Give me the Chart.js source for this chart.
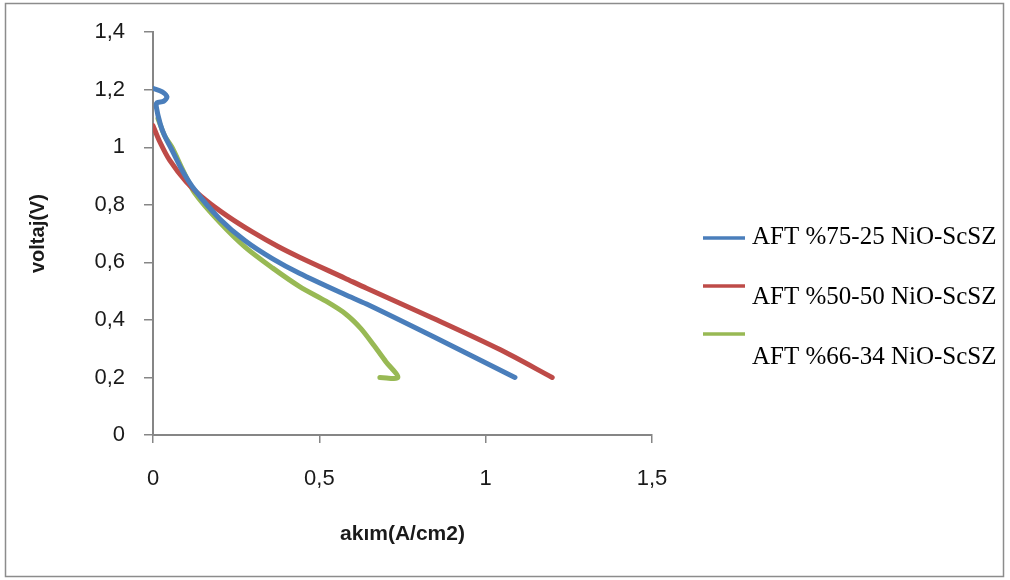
<!DOCTYPE html>
<html>
<head>
<meta charset="utf-8">
<script src="https://cdn.jsdelivr.net/npm/chart.js@4.4.1/dist/chart.umd.min.js"></script>
<style>
  html, body { margin: 0; padding: 0; background: #fff; }
  #wrap { width: 1010px; height: 580px; }
</style>
</head>
<body>
<div id="wrap"><canvas id="c" width="1010" height="580"></canvas></div>
<script>
// ---- data (x: akım A/cm2, y: voltaj V) ----
const seriesNames = ['AFT %75-25 NiO-ScSZ', 'AFT %50-50 NiO-ScSZ', 'AFT %66-34 NiO-ScSZ'];

const blueX = [0.000, 0.028, 0.042, 0.032, 0.012, 0.010, 0.022, 0.035, 0.057, 0.090, 0.126, 0.200, 0.277, 0.360, 0.440, 0.577, 0.642, 0.842, 1.088];
const blueY = [1.205, 1.193, 1.175, 1.160, 1.155, 1.140, 1.080, 1.040, 0.990, 0.915, 0.851, 0.752, 0.675, 0.612, 0.562, 0.488, 0.455, 0.342, 0.200];

const redX = [0.000, 0.020, 0.050, 0.100, 0.160, 0.225, 0.300, 0.376, 0.442, 0.577, 0.642, 0.842, 1.043, 1.200];
const redY = [1.075, 1.020, 0.955, 0.880, 0.815, 0.760, 0.705, 0.655, 0.617, 0.545, 0.510, 0.406, 0.297, 0.200];

const greenX = [0.015, 0.035, 0.057, 0.090, 0.126, 0.200, 0.277, 0.360, 0.442, 0.520, 0.580, 0.625, 0.665, 0.700, 0.736, 0.682];
const greenY = [1.100, 1.040, 1.000, 0.920, 0.840, 0.740, 0.653, 0.580, 0.515, 0.465, 0.420, 0.370, 0.310, 0.255, 0.200, 0.200];

const xTickLabels = ['0', '0,5', '1', '1,5'];
const yTickLabels = ['0', '0,2', '0,4', '0,6', '0,8', '1', '1,2', '1,4'];

const colors = ['#4A7EBB', '#BE4B48', '#98B954'];

function pts(xs, ys) { return xs.map((x, i) => ({ x: x, y: ys[i] })); }
const seriesData = [pts(blueX, blueY), pts(redX, redY), pts(greenX, greenY)];

const AXIS = '#868686';

const bgBorder = {
  id: 'bgBorder',
  beforeDraw(chart) {
    const ctx = chart.ctx;
    ctx.save();
    ctx.fillStyle = '#ffffff';
    ctx.fillRect(0, 0, chart.width, chart.height);
    ctx.restore();
  },
  afterDraw(chart) {
    const ctx = chart.ctx;
    ctx.save();
    ctx.strokeStyle = '#8c8c8c';
    ctx.lineWidth = 1.5;
    ctx.strokeRect(5.5, 3.5, 998, 573);
    ctx.restore();
  }
};

const sideLegend = {
  id: 'sideLegend',
  afterDraw(chart) {
    const ctx = chart.ctx;
    const lineYs = [238, 286, 334];
    const textYs = [244, 304, 364];
    ctx.save();
    ctx.font = '25px "Liberation Serif", "Times New Roman", serif';
    ctx.textBaseline = 'alphabetic';
    ctx.textAlign = 'left';
    chart.data.datasets.forEach((ds, i) => {
      ctx.strokeStyle = ds.borderColor;
      ctx.lineWidth = 3.5;
      ctx.beginPath();
      ctx.moveTo(703, lineYs[i]);
      ctx.lineTo(745, lineYs[i]);
      ctx.stroke();
      ctx.fillStyle = '#000';
      ctx.fillText(ds.label, 752, textYs[i]);
    });
    ctx.restore();
  }
};

new Chart(document.getElementById('c'), {
  type: 'scatter',
  data: {
    datasets: seriesData.map((d, i) => ({
      label: seriesNames[i],
      data: d,
      showLine: true,
      borderColor: colors[i],
      backgroundColor: colors[i],
      borderWidth: 5,
      pointRadius: 0,
      pointHoverRadius: 0,
      tension: 0.3,
      borderCapStyle: 'round',
      borderJoinStyle: 'round',
      fill: false
    }))
  },
  options: {
    responsive: false,
    animation: false,
    events: [],
    layout: { padding: { left: 0, top: 32, right: 358, bottom: 0 } },
    plugins: {
      legend: { display: false },
      tooltip: { enabled: false }
    },
    scales: {
      x: {
        type: 'linear',
        min: 0, max: 1.5,
        afterFit(s) { s.height = 145; },
        ticks: {
          stepSize: 0.5,
          padding: 23,
          color: '#1a1a1a',
          font: { family: '"Liberation Sans", Arial, sans-serif', size: 22 },
          maxRotation: 0,
          callback: (v, i) => xTickLabels[i]
        },
        grid: { display: true, drawOnChartArea: false, drawTicks: true, tickLength: 8, color: AXIS, lineWidth: 1.5 },
        border: { display: true, color: AXIS, width: 2 },
        title: {
          display: true,
          text: 'akım(A/cm2)',
          color: '#1a1a1a',
          font: { family: '"Liberation Sans", Arial, sans-serif', size: 21, weight: 'bold' },
          padding: { top: 0, bottom: 33 }
        }
      },
      y: {
        type: 'linear',
        min: 0, max: 1.4,
        afterFit(s) { s.width = 153; },
        ticks: {
          stepSize: 0.2,
          padding: 19,
          color: '#1a1a1a',
          font: { family: '"Liberation Sans", Arial, sans-serif', size: 22 },
          callback: (v, i) => yTickLabels[i]
        },
        grid: { display: true, drawOnChartArea: false, drawTicks: true, tickLength: 9, color: AXIS, lineWidth: 1.5 },
        border: { display: true, color: AXIS, width: 2 },
        title: {
          display: true,
          text: 'voltaj(V)',
          color: '#1a1a1a',
          font: { family: '"Liberation Sans", Arial, sans-serif', size: 20, weight: 'bold' },
          padding: { top: 26, bottom: 0 }
        }
      }
    }
  },
  plugins: [bgBorder, sideLegend]
});
</script>
</body>
</html>
